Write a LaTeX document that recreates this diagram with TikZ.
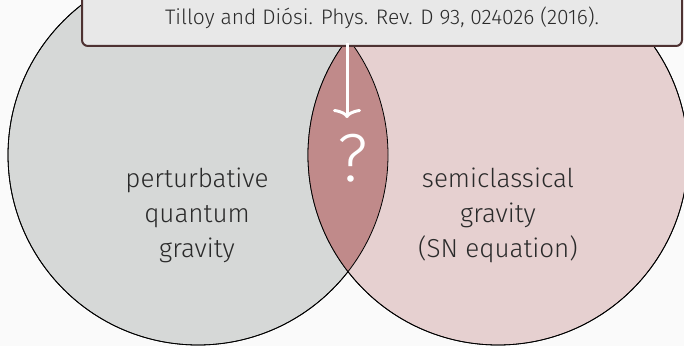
\documentclass[tikz,border=0pt]{standalone}
\usepackage{fontspec}
\setmainfont{Fira Sans}[UprightFont=* Light]
\usetikzlibrary{arrows.meta}
\definecolor{bgc}{HTML}{FAFAFA}
\definecolor{leftc}{HTML}{D6D8D7}
\definecolor{rightc}{HTML}{E6D0D0}
\definecolor{lensc}{HTML}{C08A8A}
\definecolor{boxc}{HTML}{E8E8E8}
\definecolor{boxline}{HTML}{4E3232}
\definecolor{txt}{HTML}{2A2A2A}
\tikzset{
  setc/.style={circle, minimum size=380pt, inner sep=0pt, draw=black, line width=0.8pt},
  lbl/.style={align=center, text=txt, font=\fontsize{26}{35}\selectfont},
}
\begin{document}
\begin{tikzpicture}[x=1pt,y=1pt]
\fill[bgc] (0,0) rectangle (684,346);
\useasboundingbox (0,0) rectangle (684,346);
\node[setc, fill=leftc] (L) at (198,191) {};
\node[setc, fill=rightc] (R) at (498,191) {};
\begin{scope}
  \clip (198,191) circle (190);
  \fill[lensc] (498,191) circle (190);
\end{scope}
\draw[black, line width=0.8pt] (198,191) circle (190);
\draw[black, line width=0.8pt] (498,191) circle (190);
\node[lbl] (lt) at (197,131) {perturbative\\quantum\\gravity};
\node[lbl] (rt) at (498,131) {semiclassical\\gravity\\(SN equation)};
\node[text=white, font=\fontsize{68}{68}\selectfont] (q) at (353,188) {?};
\node[draw=boxline, fill=boxc, line width=2pt, rounded corners=6pt, minimum width=600pt, minimum height=66pt, anchor=south] (box) at (382,299) {};
\node[text=txt, font=\fontsize{21}{24}\selectfont] (cite) at (382,328) {Tilloy and Diósi. Phys. Rev. D 93, 024026 (2016).};
\coordinate (tip) at (347,228);
\draw[white, line width=3pt, -{To[length=9pt,width=28pt]}] ([yshift=4pt]box.south -| tip) -- (tip);
\end{tikzpicture}
\end{document}
